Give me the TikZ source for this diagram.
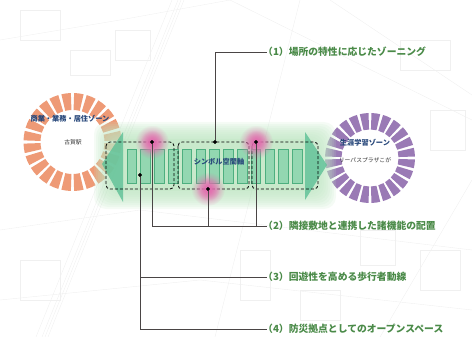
\documentclass[tikz,border=0pt]{standalone}
\usepackage{fontspec}
\newfontfamily\jp{Noto Sans CJK JP}
\usetikzlibrary{fadings,calc}

\definecolor{zoneorange}{HTML}{EE9A76}
\definecolor{zonepurple}{HTML}{9A7AB5}
\definecolor{axisgreen}{HTML}{5FC197}
\definecolor{barfill}{HTML}{93D7B1}
\definecolor{barline}{HTML}{4DAF7F}
\definecolor{glowgreen}{HTML}{BFE6C3}
\definecolor{labelgreen}{HTML}{4A8A48}
\definecolor{zonenavy}{HTML}{27477A}
\definecolor{leader}{HTML}{4A4545}
\definecolor{pinkglow}{HTML}{E36AAE}
\definecolor{mapline}{HTML}{F0F0F0}

\tikzfading[name=softglow, inner color=transparent!0, outer color=transparent!100]

\tikzset{
  maplines/.style={draw=mapline, line width=0.4pt},
  ringseg/.style={fill=#1},
  glowlayer/.style={fill=glowgreen, fill opacity=0.16, rounded corners=12pt},
  headshape/.style={fill=axisgreen, fill opacity=0.82},
  barbox/.style={fill=barfill, draw=barline, line width=0.8pt},
  zonebox/.style={draw=black, dashed, dash pattern=on 3pt off 2pt, line width=0.8pt, rounded corners=4pt},
  spot/.style={fill=pinkglow, path fading=softglow},
  pin/.style={circle, fill=black, inner sep=0pt, minimum size=3.8pt},
  leaderline/.style={draw=leader, line width=0.9pt},
  label/.style={anchor=west, inner sep=0pt, text=labelgreen, font=\jp\bfseries\fontsize{9.8}{10}\selectfont},
  zonetitle/.style={text=zonenavy, font=\jp\bfseries\fontsize{7.2}{8}\selectfont, inner sep=0pt},
  zonesub/.style={text=black!80, font=\jp\fontsize{5.8}{7}\selectfont, inner sep=0pt},
  axistitle/.style={text=zonenavy, font=\jp\bfseries\fontsize{7.2}{8}\selectfont, inner sep=0pt}
}

\begin{document}
\begin{tikzpicture}[x=1pt,y=-1pt]
\useasboundingbox (0,0) rectangle (472,337);

% faint street map underlay
\begin{scope}[maplines]
  \draw (172,0) -- (36,337);
  \draw (178,0) -- (42,337);
  \draw (181,0) -- (45,337);
  \draw (184,0) -- (48,337);
  \draw (300,0) -- (215,337);
  \draw (0,40) -- (120,20) -- (230,0);
  \draw (0,230) -- (140,210) -- (472,250);
  \draw (0,300) -- (200,280) -- (472,310);
  \draw (330,0) -- (472,95);
  \draw (380,337) -- (472,180);
  \draw (230,0) -- (472,120);
  \draw (20,10) rectangle (60,40);
  \draw (70,50) rectangle (110,75);
  \draw (115,30) rectangle (150,60);
  \draw (240,250) rectangle (270,300);
  \draw (400,40) rectangle (450,70);
  \draw (420,250) rectangle (460,290);
  \draw (20,260) rectangle (60,300);
  \draw (300,290) rectangle (340,320);
  \draw (360,230) rectangle (395,265);
  \draw (430,110) rectangle (465,150);
\end{scope}

% zone rings
\coordinate (ocen) at (72.5,142);
\coordinate (pcen) at (370,158);
\foreach \i in {0,...,23}{
  \pgfmathsetmacro{\a}{7.5+15*\i}
  \fill[ringseg=zoneorange] ($(ocen)+(\a-5.6:49)$) arc[start angle=\a-5.6, end angle=\a+5.6, radius=49]
    -- ($(ocen)+(\a+5.6:32)$) arc[start angle=\a+5.6, end angle=\a-5.6, radius=32] -- cycle;
  \fill[ringseg=zonepurple] ($(pcen)+(\a-5.6:45)$) arc[start angle=\a-5.6, end angle=\a+5.6, radius=45]
    -- ($(pcen)+(\a+5.6:28.5)$) arc[start angle=\a+5.6, end angle=\a-5.6, radius=28.5] -- cycle;
}

% soft green halo along the axis
\foreach \d in {0,2,...,16}{
  \fill[glowlayer] (110-\d,138-\d) rectangle (320+\d,193+\d);
}
\fill[glowgreen, fill opacity=0.35] (123,139) rectangle (305,191);

% arrow heads at both ends
\fill[headshape] (123,132) -- (102,164) -- (123,202) -- cycle;
\fill[headshape] (305,132) -- (327,165) -- (305,200) -- cycle;

% paving bars
\foreach \i in {0,...,12}{
  \draw[barbox] (127+13.8*\i,149) rectangle ++(9.5,34);
}

% three dashed zones
\draw[zonebox] (106,142) rectangle (174,189);
\draw[zonebox] (178,142) rectangle (249,189);
\draw[zonebox] (252,142) rectangle (318,189);

% highlight spots
\foreach \c in {(152,142),(256,142),(208,189)}{
  \fill[spot] \c circle (17);
  \fill[spot, fill opacity=0.8] \c circle (12);
}

% texts in the plan
\node[zonetitle] (otitle) at (70,119) {商業・業務・居住ゾーン};
\node[zonesub] (osub) at (73,142) {古賀駅};
\node[zonetitle] (ptitle) at (365,143) {生涯学習ゾーン};
\node[zonesub] (psub) at (365,160) {リーパスプラザこが};
\node[axistitle] (axis) at (219,162) {シンボル空間軸};

% callout labels
\node[label] (l1) at (263,52) {（1）場所の特性に応じたゾーニング};
\node[label] (l2) at (263,226) {（2）隣接敷地と連携した諸機能の配置};
\node[label] (l3) at (263,277) {（3）回遊性を高める歩行者動線};
\node[label] (l4) at (263,329) {（4）防災拠点としてのオープンスペース};
\coordinate (e1) at ([xshift=4pt]l1.west);
\coordinate (e2) at ([xshift=4pt]l2.west);
\coordinate (e3) at ([xshift=4pt]l3.west);
\coordinate (e4) at ([xshift=4pt]l4.west);

% pins
\node[pin] (d1) at (215,142) {};
\node[pin] (p1) at (152,142) {};
\node[pin] (p2) at (256,142) {};
\node[pin] (p3) at (208,189) {};
\node[pin] (d3) at (140,175) {};

% leader lines
\draw[leaderline] (d1.center) |- (e1);
\draw[leaderline] (p1.center) |- (e2);
\draw[leaderline] (p3.center) -- (p3 |- e2);
\draw[leaderline] (p2.center) -- (p2 |- e2);
\draw[leaderline] (d3.center) |- (e4);
\draw[leaderline] (d3 |- e3) -- (e3);

% redraw pins above the lines
\foreach \p in {d1,p1,p2,p3,d3}{ \fill (\p) circle (1.9); }
\end{tikzpicture}
\end{document}
